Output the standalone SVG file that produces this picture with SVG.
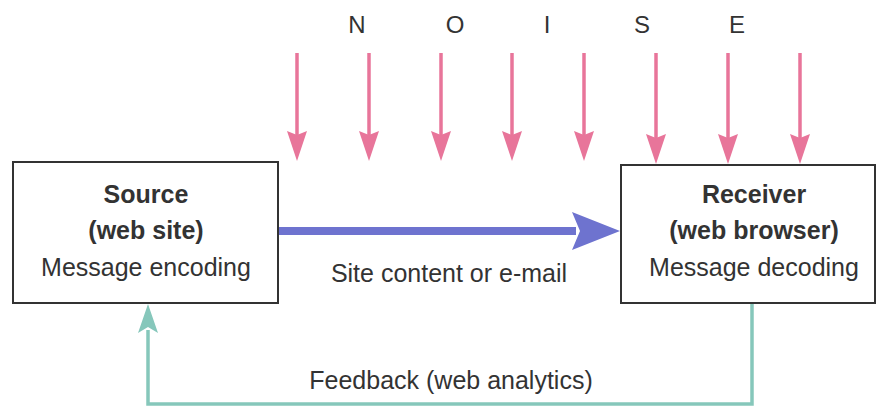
<svg xmlns="http://www.w3.org/2000/svg" width="879" height="410" viewBox="0 0 879 410">
<style>
.box{fill:#fff;stroke:#333;stroke-width:2}
.t{font-family:"Liberation Sans",Arial,sans-serif;font-size:25px;fill:#333;text-anchor:middle}
.b{font-weight:bold}
.n{font-family:"Liberation Sans",Arial,sans-serif;font-size:24px;fill:#333;text-anchor:middle}
.noise{stroke:#e8759a;stroke-width:3.5;fill:none}
.fb{stroke:#86c7bb;stroke-width:3.5;fill:none}
</style>
<defs>
<marker id="nh" viewBox="0 0 30 20" refX="20" refY="10" markerWidth="30" markerHeight="20" orient="auto" markerUnits="userSpaceOnUse">
<path d="M0,0 L30,10 L0,20 L4,10 Z" fill="#e8759a"/>
</marker>
</defs>
<rect width="879" height="410" fill="#fff"/>
<g id="noise-label">
<text class="n" x="357" y="33">N</text>
<text class="n" x="455" y="33">O</text>
<text class="n" x="547" y="33">I</text>
<text class="n" x="642" y="33">S</text>
<text class="n" x="737" y="33">E</text>
</g>
<g id="connectors">
<g id="noise-arrows">
<line class="noise" x1="297" y1="53" x2="297" y2="151" marker-end="url(#nh)"/>
<line class="noise" x1="369" y1="53" x2="369" y2="151" marker-end="url(#nh)"/>
<line class="noise" x1="441" y1="53" x2="441" y2="151" marker-end="url(#nh)"/>
<line class="noise" x1="512" y1="53" x2="512" y2="151" marker-end="url(#nh)"/>
<line class="noise" x1="584" y1="53" x2="584" y2="151" marker-end="url(#nh)"/>
<line class="noise" x1="656" y1="53" x2="656" y2="154" marker-end="url(#nh)"/>
<line class="noise" x1="728" y1="53" x2="728" y2="154" marker-end="url(#nh)"/>
<line class="noise" x1="800" y1="53" x2="800" y2="154" marker-end="url(#nh)"/>
</g>
<g id="message">
<line x1="279" y1="231" x2="576" y2="231" stroke="#6e73cf" stroke-width="8"/>
<path d="M572,212 L620,231 L572,250 L580,231 Z" fill="#6e73cf"/>
<text class="t" x="449" y="282">Site content or e-mail</text>
</g>
<g id="feedback">
<polyline class="fb" points="752,304 752,404 148,404 148,330"/>
<path d="M138,333 L148,304 L158,333 L148,327 Z" fill="#86c7bb"/>
<text class="t" x="451" y="389">Feedback (web analytics)</text>
</g>
</g>
<g id="source">
<rect class="box" x="13" y="162" width="265" height="141"/>
<text class="t b" x="146" y="203">Source</text>
<text class="t b" x="146" y="239">(web site)</text>
<text class="t" x="146" y="276">Message encoding</text>
</g>
<g id="receiver">
<rect class="box" x="621" y="165" width="254" height="138"/>
<text class="t b" x="754" y="203">Receiver</text>
<text class="t b" x="754" y="239">(web browser)</text>
<text class="t" x="754" y="276">Message decoding</text>
</g>
</svg>
